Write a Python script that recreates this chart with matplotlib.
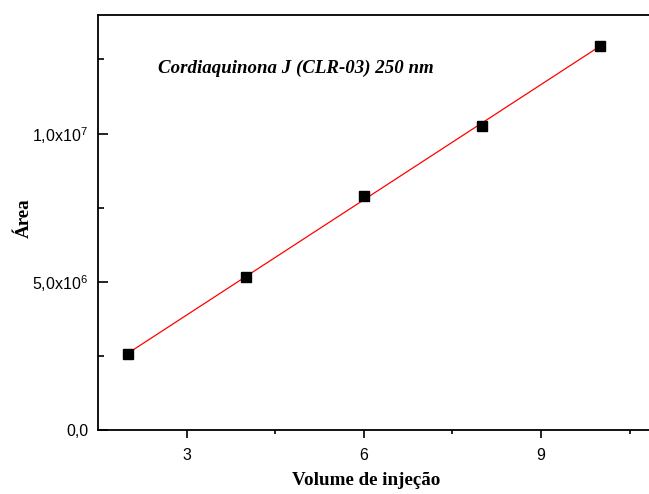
import matplotlib
matplotlib.use("Agg")
import matplotlib.pyplot as plt
import numpy as np

volume = [2, 4, 6, 8, 10]
area = [2.56e6, 5.15e6, 7.88e6, 10.27e6, 12.96e6]
fit_x = [2, 10]
ytick_vals = [0, 5e6, 1e7]
ytick_labels = ["0,0", r"5,0x10$^{6}$", r"1,0x10$^{7}$"]
xtick_vals = [3, 6, 9]
xtick_labels = ["3", "6", "9"]

plt.rcParams['mathtext.fontset'] = 'custom'
plt.rcParams['mathtext.rm'] = 'Liberation Sans'
plt.rcParams['mathtext.it'] = 'Liberation Sans'

fig = plt.figure(figsize=(6.49, 4.94), dpi=100)
ax = fig.add_axes([98/649, 64/494, 551/649, 415/494])

coef = np.polyfit(volume, area, 1)
fy = np.polyval(coef, fit_x)
ax.plot(fit_x, fy, color='red', lw=0.9, zorder=2)
ax.plot(volume, area, 's', color='black', ms=6.5, zorder=3)

ax.set_xlim(1.5, 10.83)
ax.set_ylim(0, 1.4e7)

ax.set_xticks(xtick_vals)
ax.set_xticklabels(xtick_labels, fontfamily='Liberation Sans', fontsize=11.5)
ax.set_xticks([4.5, 7.5, 10.5], minor=True)
ax.set_yticks(ytick_vals)
ax.set_yticklabels(ytick_labels, fontfamily='Liberation Sans', fontsize=11.5)
ax.set_yticks([2.5e6, 7.5e6, 1.25e7], minor=True)

ax.tick_params(axis='x', which='major', direction='out', length=6, width=1.2, pad=7)
ax.tick_params(axis='x', which='minor', direction='out', length=3, width=1.2)
ax.tick_params(axis='y', which='major', direction='in', length=7, width=1.2, pad=7)
ax.tick_params(axis='y', which='minor', direction='in', length=4, width=1.2)

for s in ['left', 'bottom', 'top']:
    ax.spines[s].set_linewidth(1.3)
ax.spines['right'].set_visible(False)

ax.set_xlabel("Volume de injeção", fontfamily='Liberation Serif', fontweight='bold', fontsize=13.7)
ax.xaxis.label.set_va('center')
ax.xaxis.set_label_coords((366-98)/551, -(480-430)/415)
ax.set_ylabel("Área", fontfamily='Liberation Serif', fontweight='bold', fontsize=13.7)
ax.yaxis.label.set_va('center')
ax.yaxis.set_label_coords(-(98-24)/551, (430-218)/415)

ax.text((158-98)/551, (430-68)/415, "Cordiaquinona J (CLR-03) 250 nm", transform=ax.transAxes,
        fontfamily='Liberation Serif', fontweight='bold', fontstyle='italic', fontsize=13.6,
        ha='left', va='center')

fig.savefig("out.png", dpi=100)
